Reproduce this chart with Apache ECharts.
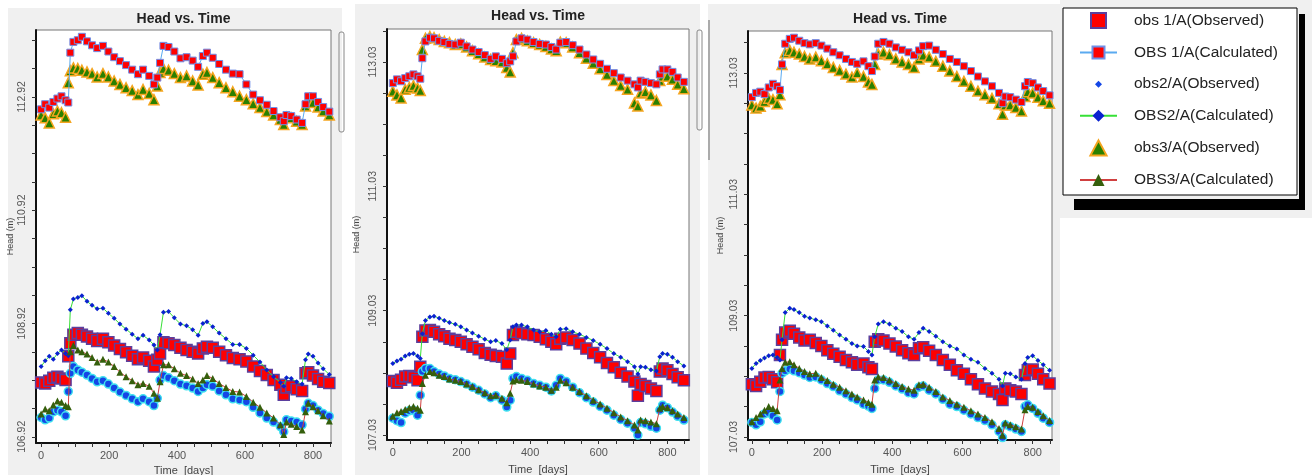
<!DOCTYPE html>
<html>
<head>
<meta charset="utf-8">
<title>Head vs. Time</title>
<script src="https://cdn.jsdelivr.net/npm/echarts@6.0.0/dist/echarts.min.js"></script>
<style>
  html, body { margin: 0; padding: 0; background: #fff; }
  #chart { width: 1312px; height: 475px; }
</style>
</head>
<body>
<div id="chart"></div>
<script>
// shared sample times (days)
const times = [0, 12, 24, 36, 48, 60, 72, 80, 86, 95, 108, 120, 135, 150, 165, 182, 198, 215, 232, 250,
  268, 285, 300, 318, 332, 342, 350, 360, 375, 392, 410, 428, 446, 462, 476, 488, 505, 524, 544, 564,
  584, 604, 624, 644, 664, 684, 704, 714, 722, 736, 752, 768, 778, 786, 800, 815, 830, 848];

// panel 1
const p1Obs1Observed = [107.88, 107.86, 107.91, 107.96, 107.98, 107.95, 107.92, 108.34, 108.57, 108.72, 108.75, 108.72, 108.69, 108.65, 108.61, 108.65, 108.59, 108.53, 108.47, 108.41, 108.35, 108.29, 108.32, 108.26, 108.16, 108.28, 108.39, 108.59, 108.57, 108.54, 108.49, 108.45, 108.42, 108.39, 108.48, 108.51, 108.49, 108.42, 108.36, 108.31, 108.29, 108.25, 108.16, 108.08, 108.01, 107.92, 107.84, 107.66, 107.79, 107.81, 107.76, 107.73, 108.04, 108.06, 108.00, 107.94, 107.89, 107.87];
const p1Obs1Calculated = [112.70, 112.79, 112.73, 112.83, 112.89, 112.93, 112.86, 112.82, 113.70, 113.89, 113.92, 113.98, 113.90, 113.83, 113.78, 113.82, 113.72, 113.62, 113.55, 113.48, 113.40, 113.32, 113.40, 113.29, 113.14, 113.26, 113.52, 113.82, 113.80, 113.72, 113.60, 113.62, 113.56, 113.45, 113.64, 113.70, 113.61, 113.50, 113.40, 113.33, 113.32, 113.14, 112.96, 112.86, 112.78, 112.67, 112.56, 112.49, 112.60, 112.58, 112.52, 112.46, 112.79, 112.93, 112.93, 112.83, 112.74, 112.66];
const p1Obs2Observed = [107.26, 107.22, 107.25, 107.36, 107.39, 107.36, 107.29, 107.72, 108.04, 108.16, 108.10, 108.06, 108.01, 107.95, 107.89, 107.91, 107.85, 107.78, 107.71, 107.65, 107.59, 107.54, 107.59, 107.54, 107.47, 107.60, 107.92, 108.00, 107.96, 107.91, 107.85, 107.82, 107.78, 107.72, 107.78, 107.84, 107.81, 107.73, 107.66, 107.59, 107.57, 107.54, 107.44, 107.34, 107.25, 107.18, 107.10, 107.01, 107.22, 107.20, 107.18, 107.13, 107.41, 107.51, 107.47, 107.39, 107.33, 107.28];
const p1Obs2Calculated = [108.16, 108.26, 108.34, 108.29, 108.39, 108.45, 108.39, 108.35, 109.16, 109.35, 109.38, 109.41, 109.31, 109.24, 109.18, 109.19, 109.10, 109.01, 108.91, 108.82, 108.73, 108.65, 108.71, 108.63, 108.54, 108.45, 108.72, 109.12, 109.13, 109.02, 108.91, 108.88, 108.81, 108.71, 108.92, 108.95, 108.86, 108.75, 108.65, 108.55, 108.55, 108.48, 108.36, 108.24, 108.10, 107.98, 107.88, 107.81, 107.96, 107.95, 107.89, 107.85, 108.28, 108.38, 108.34, 108.22, 108.12, 108.02];
const p1Obs3Observed = [112.60, 112.55, 112.46, 112.62, 112.67, 112.64, 112.56, 113.17, 113.38, 113.43, 113.42, 113.39, 113.36, 113.33, 113.27, 113.33, 113.27, 113.20, 113.14, 113.08, 113.03, 112.96, 113.05, 112.98, 112.87, 113.11, 113.35, 113.42, 113.39, 113.33, 113.26, 113.29, 113.20, 113.13, 113.32, 113.35, 113.26, 113.17, 113.08, 113.01, 112.93, 112.87, 112.80, 112.73, 112.66, 112.60, 112.52, 112.43, 112.56, 112.55, 112.49, 112.43, 112.76, 112.86, 112.82, 112.74, 112.67, 112.60];
const p1Obs3Calculated = [107.32, 107.41, 107.38, 107.48, 107.55, 107.53, 107.47, 107.45, 108.42, 108.53, 108.45, 108.42, 108.38, 108.32, 108.24, 108.29, 108.24, 108.16, 108.06, 107.98, 107.91, 107.84, 107.86, 107.81, 107.69, 107.60, 107.89, 108.19, 108.19, 108.12, 108.04, 108.00, 107.94, 107.86, 107.92, 108.00, 107.95, 107.86, 107.79, 107.72, 107.71, 107.63, 107.53, 107.44, 107.34, 107.25, 107.13, 106.96, 107.18, 107.14, 107.10, 107.04, 107.36, 107.51, 107.45, 107.38, 107.29, 107.20];

// panel 2
const p2Obs1Observed = [107.90, 107.87, 107.92, 107.97, 107.98, 107.96, 107.91, 108.13, 108.61, 108.71, 108.72, 108.69, 108.65, 108.62, 108.58, 108.56, 108.53, 108.49, 108.45, 108.41, 108.35, 108.32, 108.30, 108.29, 108.18, 108.34, 108.64, 108.69, 108.67, 108.65, 108.64, 108.61, 108.57, 108.53, 108.49, 108.58, 108.60, 108.56, 108.50, 108.42, 108.35, 108.28, 108.19, 108.12, 108.03, 107.97, 107.89, 107.66, 107.85, 107.82, 107.78, 107.74, 108.05, 108.10, 108.07, 108.01, 107.96, 107.91];
const p2Obs1Calculated = [112.69, 112.75, 112.72, 112.77, 112.80, 112.83, 112.80, 112.76, 113.09, 113.36, 113.42, 113.41, 113.37, 113.35, 113.32, 113.31, 113.34, 113.28, 113.23, 113.19, 113.14, 113.08, 113.12, 113.08, 113.01, 113.04, 113.12, 113.36, 113.41, 113.39, 113.35, 113.32, 113.31, 113.27, 113.23, 113.34, 113.35, 113.30, 113.23, 113.15, 113.07, 113.00, 112.92, 112.85, 112.78, 112.73, 112.67, 112.62, 112.73, 112.71, 112.69, 112.67, 112.83, 112.91, 112.91, 112.87, 112.78, 112.71];
const p2Obs2Observed = [107.30, 107.26, 107.23, 107.38, 107.42, 107.43, 107.35, 107.67, 108.05, 108.10, 108.10, 108.05, 108.01, 107.98, 107.94, 107.92, 107.89, 107.85, 107.80, 107.75, 107.69, 107.63, 107.66, 107.59, 107.48, 107.59, 107.94, 107.97, 107.94, 107.91, 107.86, 107.83, 107.80, 107.74, 107.83, 107.94, 107.89, 107.80, 107.71, 107.63, 107.56, 107.49, 107.43, 107.35, 107.28, 107.22, 107.14, 107.03, 107.23, 107.21, 107.17, 107.14, 107.43, 107.51, 107.47, 107.40, 107.33, 107.27];
const p2Obs2Calculated = [108.18, 108.22, 108.25, 108.30, 108.33, 108.34, 108.30, 108.26, 108.66, 108.87, 108.93, 108.94, 108.91, 108.87, 108.84, 108.81, 108.77, 108.72, 108.67, 108.62, 108.57, 108.53, 108.55, 108.50, 108.40, 108.56, 108.77, 108.80, 108.80, 108.77, 108.72, 108.69, 108.71, 108.65, 108.61, 108.73, 108.74, 108.69, 108.65, 108.60, 108.55, 108.49, 108.42, 108.34, 108.28, 108.21, 108.13, 108.01, 108.13, 108.12, 108.08, 108.06, 108.29, 108.34, 108.33, 108.28, 108.21, 108.14];
const p2Obs3Observed = [112.56, 112.50, 112.45, 112.59, 112.62, 112.65, 112.61, 112.57, 113.23, 113.41, 113.44, 113.42, 113.39, 113.36, 113.34, 113.31, 113.32, 113.27, 113.21, 113.16, 113.11, 113.07, 113.05, 113.03, 112.94, 112.87, 113.18, 113.39, 113.41, 113.37, 113.34, 113.31, 113.28, 113.24, 113.21, 113.35, 113.34, 113.27, 113.18, 113.09, 113.01, 112.92, 112.83, 112.73, 112.65, 112.59, 112.37, 112.32, 112.53, 112.55, 112.50, 112.41, 112.73, 112.80, 112.80, 112.75, 112.67, 112.60];
const p2Obs3Calculated = [107.33, 107.39, 107.41, 107.44, 107.47, 107.49, 107.46, 107.43, 107.86, 107.99, 108.05, 108.03, 107.99, 107.97, 107.93, 107.91, 107.89, 107.85, 107.81, 107.76, 107.71, 107.66, 107.67, 107.62, 107.55, 107.70, 107.90, 107.92, 107.91, 107.89, 107.85, 107.82, 107.80, 107.75, 107.80, 107.91, 107.87, 107.80, 107.73, 107.66, 107.59, 107.53, 107.46, 107.39, 107.32, 107.26, 107.19, 107.11, 107.27, 107.26, 107.24, 107.21, 107.46, 107.49, 107.47, 107.42, 107.37, 107.31];

// panel 3
const p3Obs1Observed = [107.90, 107.87, 107.94, 108.01, 108.02, 107.98, 107.93, 108.38, 108.63, 108.75, 108.78, 108.73, 108.67, 108.62, 108.63, 108.58, 108.53, 108.46, 108.40, 108.35, 108.30, 108.26, 108.22, 108.24, 108.18, 108.15, 108.60, 108.64, 108.62, 108.57, 108.52, 108.46, 108.41, 108.38, 108.49, 108.51, 108.45, 108.38, 108.30, 108.22, 108.13, 108.07, 107.98, 107.90, 107.83, 107.78, 107.74, 107.64, 107.83, 107.80, 107.78, 107.74, 108.05, 108.13, 108.14, 108.07, 107.98, 107.91];
const p3Obs1Calculated = [112.63, 112.70, 112.72, 112.68, 112.79, 112.85, 112.81, 112.75, 113.17, 113.51, 113.59, 113.61, 113.56, 113.52, 113.50, 113.52, 113.48, 113.43, 113.37, 113.32, 113.26, 113.21, 113.18, 113.22, 113.14, 113.06, 113.30, 113.51, 113.54, 113.51, 113.45, 113.41, 113.37, 113.32, 113.40, 113.47, 113.48, 113.41, 113.34, 113.26, 113.21, 113.14, 113.06, 112.97, 112.89, 112.81, 112.70, 112.53, 112.64, 112.63, 112.59, 112.55, 112.81, 112.88, 112.86, 112.79, 112.73, 112.66];
const p3Obs2Observed = [107.27, 107.23, 107.28, 107.41, 107.43, 107.38, 107.31, 107.78, 108.08, 108.12, 108.15, 108.12, 108.09, 108.05, 108.01, 108.02, 107.97, 107.91, 107.86, 107.79, 107.74, 107.68, 107.64, 107.57, 107.54, 107.50, 107.83, 107.97, 107.97, 107.93, 107.87, 107.82, 107.76, 107.74, 107.85, 107.87, 107.80, 107.74, 107.65, 107.57, 107.53, 107.47, 107.41, 107.35, 107.30, 107.23, 107.12, 107.02, 107.23, 107.20, 107.16, 107.12, 107.53, 107.56, 107.50, 107.42, 107.34, 107.27];
const p3Obs2Calculated = [108.16, 108.24, 108.29, 108.33, 108.37, 108.38, 108.34, 108.30, 108.63, 109.08, 109.15, 109.13, 109.08, 109.02, 108.99, 108.96, 108.93, 108.86, 108.79, 108.71, 108.64, 108.57, 108.53, 108.52, 108.44, 108.38, 108.68, 108.89, 108.93, 108.89, 108.82, 108.77, 108.68, 108.64, 108.75, 108.82, 108.77, 108.69, 108.60, 108.53, 108.48, 108.38, 108.31, 108.26, 108.16, 108.08, 107.98, 107.87, 108.08, 108.07, 108.02, 107.98, 108.24, 108.34, 108.37, 108.29, 108.22, 108.13];
const p3Obs3Observed = [112.50, 112.45, 112.48, 112.56, 112.61, 112.59, 112.52, 112.67, 113.17, 113.36, 113.40, 113.37, 113.34, 113.30, 113.26, 113.29, 113.23, 113.18, 113.12, 113.07, 113.01, 112.96, 113.03, 112.97, 112.88, 112.84, 113.17, 113.34, 113.37, 113.33, 113.26, 113.21, 113.17, 113.12, 113.26, 113.32, 113.29, 113.22, 113.14, 113.06, 112.97, 112.89, 112.81, 112.73, 112.67, 112.61, 112.52, 112.35, 112.50, 112.50, 112.46, 112.40, 112.64, 112.72, 112.70, 112.63, 112.57, 112.53];
const p3Obs3Calculated = [107.28, 107.35, 107.41, 107.47, 107.53, 107.50, 107.46, 107.97, 108.16, 108.26, 108.27, 108.22, 108.16, 108.11, 108.07, 108.08, 108.01, 107.96, 107.90, 107.85, 107.79, 107.74, 107.69, 107.64, 107.60, 107.57, 107.97, 108.02, 108.01, 107.97, 107.91, 107.86, 107.82, 107.80, 107.89, 107.90, 107.85, 107.78, 107.69, 107.63, 107.57, 107.52, 107.46, 107.41, 107.35, 107.28, 107.17, 107.06, 107.26, 107.23, 107.20, 107.16, 107.48, 107.53, 107.52, 107.45, 107.38, 107.30];

// tick labels
const xTickLabels = [0, 200, 400, 600, 800];
const yTickLabels1 = [106.92, 108.92, 110.92, 112.92];
const yTickLabels2 = [107.03, 109.03, 111.03, 113.03];
const yTickLabels3 = [107.03, 109.03, 111.03, 113.03];

const seriesNames = ['obs 1/A(Observed)', 'OBS 1/A(Calculated)', 'obs2/A(Observed)',
  'OBS2/A(Calculated)', 'obs3/A(Observed)', 'OBS3/A(Calculated)'];

const panelValues = [
  [p1Obs1Observed, p1Obs1Calculated, p1Obs2Observed, p1Obs2Calculated, p1Obs3Observed, p1Obs3Calculated],
  [p2Obs1Observed, p2Obs1Calculated, p2Obs2Observed, p2Obs2Calculated, p2Obs3Observed, p2Obs3Calculated],
  [p3Obs1Observed, p3Obs1Calculated, p3Obs2Observed, p3Obs2Calculated, p3Obs3Observed, p3Obs3Calculated],
];
const panelLabels = [yTickLabels1, yTickLabels2, yTickLabels3];

// layout per panel
const grids = [
  { left: 36, top: 30, width: 295, height: 413 },
  { left: 387, top: 29, width: 302, height: 411 },
  { left: 748, top: 31, width: 304, height: 409 },
];
const xRanges = [[-15, 853], [-17, 863], [-11, 855]];
const yRanges = [[106.81, 114.10], [106.95, 113.56], [106.98, 113.72]];
const titleTops = [12, 9, 12];
const yNameGaps = [21, 26, 23];
const xNameGaps = [21, 24, 24];

const seriesStyles = [
  { type: 'scatter', symbol: 'rect', symbolSize: 11,
    itemStyle: { color: '#ff0000', borderColor: '#5b3f9e', borderWidth: 1.5, opacity: 1 } },
  { type: 'line', symbol: 'rect', symbolSize: 7,
    lineStyle: { color: '#5aaaf0', width: 1 },
    itemStyle: { color: '#ff0000', borderColor: '#6f8fe8', borderWidth: 1, opacity: 1 } },
  { type: 'scatter', symbol: 'circle', symbolSize: 8,
    itemStyle: { color: '#1446e6', borderColor: '#3fe0ef', borderWidth: 1.5, opacity: 1 } },
  { type: 'line', symbol: 'diamond', symbolSize: 5,
    lineStyle: { color: '#36e036', width: 1 },
    itemStyle: { color: '#0a22d0', opacity: 1 } },
  { type: 'scatter', symbol: 'triangle', symbolSize: 10,
    itemStyle: { color: '#2a8000', borderColor: '#f5a51f', borderWidth: 1.5, opacity: 1 } },
  { type: 'line', symbol: 'triangle', symbolSize: 7,
    lineStyle: { color: '#d04040', width: 1 },
    itemStyle: { color: '#355f0c', opacity: 1 } },
];

// legend icons for the marker-only series
const legendIcons = {
  'obs 1/A(Observed)': 'path://M0,0H10V10H0Z',
  'obs2/A(Observed)': 'path://M0,0M15,15M7.5,4L11,7.5L7.5,11L4,7.5Z',
  'obs3/A(Observed)': 'path://M7,0L14,13H0Z',
};

function steps(from, to, step) {
  const out = [];
  for (let v = from; v <= to + 1e-9; v += step) out.push(Math.round(v * 100) / 100);
  return out;
}

const xTicks = steps(0, 850, 50);
const yTicks = [steps(106.92, 113.92, 0.5), steps(107.03, 113.53, 0.5), steps(107.03, 113.53, 0.5)];

const series = [];
panelValues.forEach((values, p) => {
  values.forEach((vals, s) => {
    series.push(Object.assign({
      name: seriesNames[s],
      xAxisIndex: p,
      yAxisIndex: p,
      data: times.map((t, k) => [t, vals[k]]),
      showSymbol: true,
      animation: false,
      emphasis: { disabled: true },
    }, seriesStyles[s]));
  });
});

const chart = echarts.init(document.getElementById('chart'));

chart.setOption({
  animation: false,
  textStyle: { fontFamily: 'Liberation Sans, Arial, sans-serif' },
  title: grids.map((g, i) => ({
    text: 'Head vs. Time',
    left: g.left + g.width / 2,
    top: titleTops[i],
    textAlign: 'center',
    padding: 0,
    textStyle: { fontSize: 14, fontWeight: 'bold', color: '#222' },
  })),
  grid: grids.map(g => Object.assign({
    show: true, backgroundColor: '#fff', borderColor: '#777', borderWidth: 1,
    outerBoundsMode: 'none', containLabel: false,
  }, g)),
  xAxis: grids.map((g, i) => ({
    type: 'value',
    gridIndex: i,
    min: xRanges[i][0],
    max: xRanges[i][1],
    name: 'Time  [days]',
    nameLocation: 'middle',
    nameGap: xNameGaps[i],
    nameTextStyle: { fontSize: 11, color: '#444' },
    axisLine: { show: true, onZero: false, lineStyle: { color: '#111', width: 2 } },
    axisTick: { show: true, customValues: xTicks, length: 4, lineStyle: { color: '#333' } },
    axisLabel: { customValues: xTickLabels, fontSize: 11, color: '#555', margin: 7 },
    splitLine: { show: false },
  })),
  yAxis: grids.map((g, i) => ({
    type: 'value',
    gridIndex: i,
    min: yRanges[i][0],
    max: yRanges[i][1],
    name: 'Head (m)',
    nameLocation: 'middle',
    nameRotate: 90,
    nameGap: yNameGaps[i],
    nameTextStyle: { fontSize: 9, color: '#444' },
    axisLine: { show: true, onZero: false, lineStyle: { color: '#111', width: 2 } },
    axisTick: { show: true, customValues: yTicks[i], length: 4, lineStyle: { color: '#333' } },
    axisLabel: {
      customValues: panelLabels[i], rotate: 90, fontSize: 10.5, color: '#555', margin: 8,
      formatter: v => v.toFixed(2),
    },
    splitLine: { show: false },
  })),
  legend: {
    data: seriesNames.map(n => legendIcons[n]
      ? { name: n, icon: legendIcons[n], itemStyle: n === 'obs2/A(Observed)' ? { borderWidth: 0 } : undefined }
      : { name: n }),
    orient: 'vertical',
    left: 1079,
    top: 12,
    padding: 0,
    itemWidth: 37,
    itemHeight: 15,
    itemGap: 15.6,
    symbolKeepAspect: true,
    selectedMode: false,
    textStyle: { fontSize: 15.5, color: '#222', padding: [0, 0, 0, 12] },
  },
  graphic: [
    // window backgrounds
    { type: 'rect', z: -10, shape: { x: 8, y: 8, width: 334, height: 467 }, style: { fill: '#f0f0f0' } },
    { type: 'rect', z: -10, shape: { x: 355, y: 4, width: 345, height: 471 }, style: { fill: '#f0f0f0' } },
    { type: 'rect', z: -10, shape: { x: 708, y: 4, width: 352, height: 471 }, style: { fill: '#f0f0f0' } },
    { type: 'rect', z: -10, shape: { x: 1060, y: 0, width: 252, height: 218 }, style: { fill: '#f0f0f0' } },
    { type: 'line', z: -9, shape: { x1: 709, y1: 20, x2: 709, y2: 160 }, style: { stroke: '#666', lineWidth: 1 } },
    { type: 'rect', z: -9, shape: { x: 339, y: 32, width: 5, height: 100, r: 2 }, style: { fill: 'none', stroke: '#888', lineWidth: 1 } },
    { type: 'rect', z: -9, shape: { x: 697, y: 30, width: 5, height: 100, r: 2 }, style: { fill: 'none', stroke: '#888', lineWidth: 1 } },
    // legend box and its shadow
    { type: 'rect', z: 1, shape: { x: 1299, y: 14, width: 6, height: 196 }, style: { fill: '#000' } },
    { type: 'rect', z: 1, shape: { x: 1074, y: 199, width: 231, height: 11 }, style: { fill: '#000' } },
    { type: 'rect', z: 1, shape: { x: 1063, y: 8, width: 234, height: 187 }, style: { fill: '#fff', stroke: '#000', lineWidth: 1 } },
  ],
  series: series,
});
</script>
</body>
</html>
